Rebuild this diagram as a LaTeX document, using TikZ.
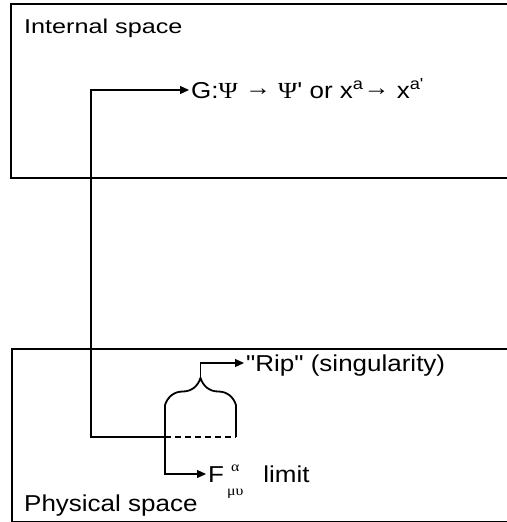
\documentclass[tikz,border=0pt]{standalone}
\usepackage{fontspec}
\setmainfont{Liberation Sans}[FakeStretch=1.13, Ligatures=TeXOff]
\newfontfamily\greekfont{Liberation Serif}[FakeStretch=1.13, Ligatures=TeXOff]
\newfontfamily\widefont{Liberation Sans}[FakeStretch=1.26, Ligatures=TeXOff]
\newcommand{\maparrow}{\raisebox{3pt}{→}}
\usetikzlibrary{arrows.meta, positioning, decorations.pathreplacing}

\begin{document}
\begin{tikzpicture}[
    x=1pt, y=-1pt,
    every node/.style={font=\fontsize{23}{27}\selectfont, inner sep=2pt},
    txt/.style={anchor=west, text height=20pt, text depth=3.4pt},
    spacebox/.style={rectangle, draw, line width=1.5pt, anchor=north west, minimum width=520pt},
    arrow/.style={-{Triangle[length=9pt, width=8pt]}, line width=1.2pt},
    plain/.style={line width=1.2pt},
    limitline/.style={line width=1.2pt, dash pattern=on 6pt off 4pt},
    bracestyle/.style={decorate, decoration={brace, amplitude=27pt}, line width=1.8pt},
]
\useasboundingbox (0,0) rectangle (506,522);

% === Internal space ===
\node[spacebox, minimum height=174pt] (internalbox) at (10,3) {};
\node[txt, font=\widefont\fontsize{20}{24}\selectfont] (internal) at (22,25) {Internal space};
\node[txt] (gmap) at (189,90) {G:{\greekfont Ψ} \maparrow{} {\greekfont Ψ}' or x\textsuperscript{a}\maparrow{} x\textsuperscript{a'}};

% === Physical space ===
\node[spacebox, minimum height=173pt] (physicalbox) at (11,348) {};
\node[txt] (physical) at (22,503) {Physical space};

% brace over the rip
\coordinate (braceL) at (165,405);
\coordinate (braceR) at (236,405);
\coordinate (limL) at (165,437);
\coordinate (limR) at (236,437);
\coordinate (bracetip) at (200.5,378);

\draw[bracestyle] (braceL) -- (braceR);
\draw[plain] (braceL) -- (limL) (braceR) -- (limR);
\draw[limitline] (limL) -- (limR);

\node[txt] (rip) at (244,363) {"Rip" (singularity)};
\node[txt] (flimit) at (206,474) {F\hspace{3pt}\makebox[0pt][l]{\hspace{4pt}\raisebox{11pt}{\greekfont\fontsize{14}{14}\selectfont α}}\raisebox{-13pt}{\greekfont\fontsize{14}{14}\selectfont μυ}\hspace{20pt}limit};

% connectors
\draw[arrow] (bracetip) |- (rip.west);
\draw[arrow] (limL) |- (flimit.west);
\draw[arrow] (limL) -- ++(-74,0) |- (gmap.west);

\end{tikzpicture}
\end{document}
